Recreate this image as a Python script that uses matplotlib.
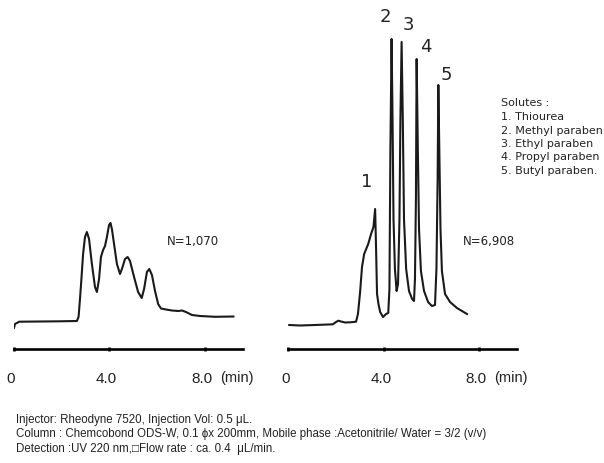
import matplotlib
matplotlib.use("Agg")
import matplotlib.pyplot as plt
from matplotlib.transforms import ScaledTranslation

# -------------------------
# Data
# time in min, signal as relative height above the time axis
# -------------------------

left_time = [0.00, 0.04, 0.22, 1.09, 1.93, 2.64, 2.71, 2.77, 2.83, 2.90, 2.98,
             3.06, 3.15, 3.27, 3.40, 3.48, 3.57, 3.65, 3.74, 3.82, 3.90, 3.99,
             4.05, 4.11, 4.20, 4.32, 4.45, 4.53, 4.66, 4.77, 4.87, 5.04, 5.21,
             5.36, 5.46, 5.58, 5.68, 5.79, 5.92, 6.05, 6.17, 6.38, 6.63, 6.89,
             7.05, 7.22, 7.47, 7.81, 8.44, 9.21]
left_signal = [21, 25, 27.3, 27.5, 27.7, 28, 32, 50, 70, 95, 112,
               117, 110, 85, 62, 57, 70, 92, 99, 103, 112, 124,
               126, 120, 105, 85, 75, 80, 90, 92, 88, 72, 57,
               51, 60, 77, 80, 74, 58, 45, 40.5, 39.5, 38.5, 38,
               38.5, 37, 34, 33, 32.2, 32.5]

right_time = [0.04, 0.49, 1.12, 1.87, 2.00, 2.10, 2.21, 2.38, 2.59, 2.84,
              2.92, 3.01, 3.09, 3.18, 3.35, 3.47, 3.57, 3.64, 3.68, 3.72,
              3.78, 3.85, 3.97, 4.10, 4.19, 4.24, 4.28, 4.33, 4.37, 4.41,
              4.47, 4.54, 4.60, 4.66, 4.70, 4.75, 4.80, 4.85, 4.94, 5.06,
              5.19, 5.27, 5.31, 5.35, 5.38, 5.43, 5.48, 5.56, 5.69, 5.86,
              6.02, 6.15, 6.21, 6.26, 6.29, 6.33, 6.38, 6.44, 6.57, 6.78,
              7.07, 7.49]
right_signal = [24, 23.5, 24, 24.7, 27, 28.3, 27.5, 26.5, 26.7, 27.3,
                35, 57, 82, 95, 105, 115, 122, 140, 100, 55,
                45, 37, 32, 35, 36, 60, 200, 310, 230, 130,
                80, 58, 65, 130, 230, 307, 230, 130, 80, 58,
                50, 48, 70, 150, 290, 200, 120, 78, 58, 47,
                43, 44, 80, 170, 264, 200, 120, 78, 55, 47,
                41, 35]

peak_labels = ["1", "2", "3", "4", "5"]
peak_label_time = [3.27, 4.05, 5.03, 5.77, 6.61]
peak_label_signal = [168, 333, 325, 303, 275]

tick_values = [0, 4, 8]
tick_labels = ["0", "4.0", "8.0"]

plate_numbers = ["N=1,070", "N=6,908"]

solutes = [
    "Solutes :",
    "1. Thiourea",
    "2. Methyl paraben",
    "3. Ethyl paraben",
    "4. Propyl paraben",
    "5. Butyl paraben.",
]

conditions = [
    "Injector: Rheodyne 7520, Injection Vol: 0.5 \u03bcL.",
    "Column : Chemcobond ODS-W, 0.1 \u03d5x 200mm, Mobile phase :Acetonitrile/ Water = 3/2 (v/v)",
    "Detection :UV 220 nm,\u25a1Flow rate : ca. 0.4  \u03bcL/min.",
]

# -------------------------
# Figure
# -------------------------

W, H = 604, 464
fig = plt.figure(figsize=(W / 100, H / 100), dpi=100)
TXT = "#222222"


def fx(x):
    return x / W


def fy(y):
    return 1 - y / H


def make_panel(x0, x1, t, s, n_text, n_pos):
    ax = fig.add_axes([fx(x0), fy(350), fx(x1) - fx(x0), 340 / H])
    ax.plot(t, s, color="#1a1a1a", lw=1.5, solid_joinstyle="round")
    ax.set_xlim(0, 9.6)
    ax.set_ylim(0, 340)
    for side in ["top", "right", "left"]:
        ax.spines[side].set_visible(False)
    ax.spines["bottom"].set_linewidth(1.9)
    ax.set_yticks([])
    ax.set_xticks(tick_values)
    ax.set_xticklabels(tick_labels, fontsize=11, color=TXT,
                       family=["Liberation Sans", "DejaVu Sans"])
    ax.tick_params(axis="x", direction="inout", length=3, width=1.9, pad=14)
    shift = ScaledTranslation(-3 / 100, 0, fig.dpi_scale_trans)
    for lab in ax.get_xticklabels():
        lab.set_transform(lab.get_transform() + shift)
    ax.text(9.35, -28, "(min)", ha="center", va="center",
            fontsize=10.5, color=TXT, clip_on=False,
            family=["Liberation Sans", "DejaVu Sans"])
    ax.text(n_pos[0], n_pos[1], n_text, ha="left", va="center",
            fontsize=8.5, color=TXT)
    return ax


ax_left = make_panel(14, 242.7, left_time, left_signal,
                     plate_numbers[0], (6.4, 108))
ax_right = make_panel(288.3, 517.3, right_time, right_signal,
                      plate_numbers[1], (7.3, 108))

for lab, t, s in zip(peak_labels, peak_label_time, peak_label_signal):
    ax_right.text(t, s, lab, ha="center", va="center",
                  fontsize=13, color=TXT, clip_on=False)

for i, line in enumerate(solutes):
    fig.text(fx(501), fy(103.5 + i * 13.5), line, ha="left", va="center",
             fontsize=8, color=TXT)

for i, line in enumerate(conditions):
    fig.text(fx(16), fy(420 + i * 14.5), line, ha="left", va="center",
             fontsize=8.3, color=TXT,
             family=["Liberation Sans", "DejaVu Sans"])

fig.savefig("out.png", dpi=100)
